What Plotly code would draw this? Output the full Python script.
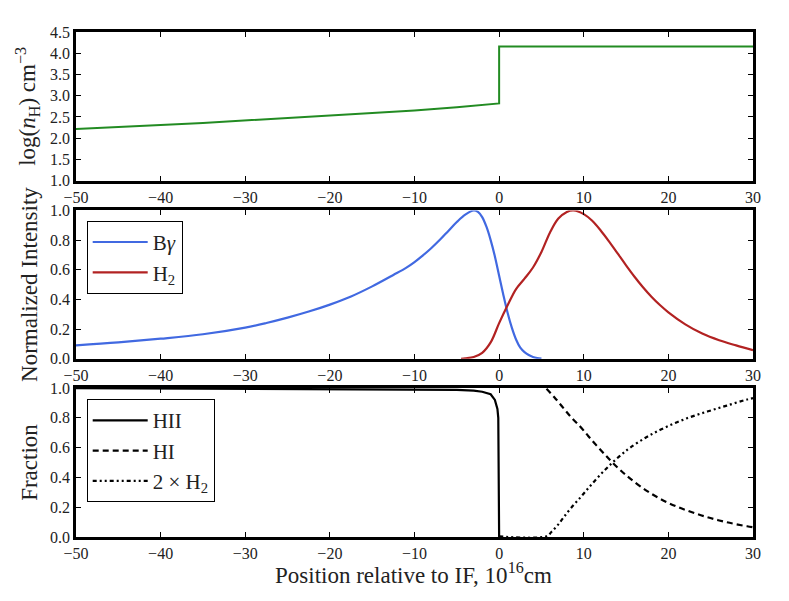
import plotly.graph_objects as go

# density panel
dens_x = [-50, -45, -40, -35, -30, -25, -20, -15, -10, -5, -2, 0, 0, 30]
dens_y = [2.22, 2.26, 2.31, 2.36, 2.42, 2.47, 2.53, 2.59, 2.65, 2.73, 2.78, 2.82, 4.16, 4.16]

# normalized intensities
brg_x = [-50, -45, -40, -35, -30, -27.5, -25, -22.5, -20, -17.5, -15, -12.5, -11, -10, -9, -8, -7, -6,
         -5, -4, -3, -2.5, -2, -1.5, -1, -0.5, 0, 0.5, 1, 1.5, 2, 2.5, 3, 3.5, 4, 4.5, 5]
brg_y = [0.09, 0.11, 0.135, 0.165, 0.21, 0.241, 0.277, 0.318, 0.365, 0.42, 0.488, 0.565, 0.613, 0.652,
         0.697, 0.747, 0.802, 0.862, 0.922, 0.972, 1.0, 0.99, 0.955, 0.89, 0.80, 0.69, 0.56, 0.43, 0.31,
         0.21, 0.13, 0.075, 0.045, 0.025, 0.012, 0.005, 0.001]

h2_x = [-4.5, -4, -3, -2, -1, 0, 1, 2, 3, 4, 5, 6, 7, 8, 8.8, 10, 11, 12, 13, 14, 15, 16, 17, 18, 19,
        20, 22, 24, 26, 28, 30]
h2_y = [0.0, 0.003, 0.012, 0.04, 0.11, 0.24, 0.36, 0.47, 0.54, 0.615, 0.72, 0.85, 0.945, 0.99, 1.0,
        0.975, 0.93, 0.865, 0.79, 0.71, 0.63, 0.553, 0.482, 0.418, 0.362, 0.313, 0.232, 0.17, 0.125,
        0.09, 0.058]

# fractions
hii_x = [-50, -10, -5, -3, -2, -1, -0.5, -0.2, -0.1, 0]
hii_y = [1.0, 0.993, 0.988, 0.982, 0.975, 0.958, 0.92, 0.86, 0.80, 0.0]

hi_x = [5.6, 6.5, 7.6, 8.5, 9.6, 10.5, 11.5, 12.5, 13.3, 14.5, 15.5, 17.5, 19.8, 22.2, 24.6, 26.9,
        29.3, 30]
hi_y = [0.995, 0.94, 0.865, 0.805, 0.74, 0.68, 0.615, 0.553, 0.505, 0.44, 0.392, 0.308, 0.234,
        0.178, 0.133, 0.099, 0.072, 0.066]

mol_x = [0, 5.6, 6.2, 7, 7.6, 8.5, 9.6, 10.5, 11.5, 12.5, 13.4, 14.5, 15.5, 17.5, 19.8, 22.2, 24.6,
         26.9, 29.3, 30]
mol_y = [0.004, 0.005, 0.035, 0.085, 0.13, 0.195, 0.265, 0.325, 0.39, 0.45, 0.50, 0.555, 0.60, 0.673,
         0.74, 0.797, 0.842, 0.882, 0.923, 0.932]

FONT = "Liberation Serif"
TXT = '#222'

fig = go.Figure()

fig.add_trace(go.Scatter(x=dens_x, y=dens_y, mode='lines', line=dict(color='#228B22', width=2),
                         showlegend=False, xaxis='x', yaxis='y'))

fig.add_trace(go.Scatter(x=brg_x, y=brg_y, mode='lines', name='B<i>\u03b3</i>',
                         line=dict(color='#4169E1', width=2.2, shape='spline', smoothing=1.0),
                         xaxis='x2', yaxis='y2', legend='legend'))
fig.add_trace(go.Scatter(x=h2_x, y=h2_y, mode='lines', name='H<sub>2</sub>',
                         line=dict(color='#B22222', width=2.2, shape='spline', smoothing=1.0),
                         xaxis='x2', yaxis='y2', legend='legend'))

fig.add_trace(go.Scatter(x=hii_x, y=hii_y, mode='lines', name='HII', line=dict(color='black', width=2.2),
                         xaxis='x3', yaxis='y3', legend='legend2'))
fig.add_trace(go.Scatter(x=hi_x, y=hi_y, mode='lines', name='HI',
                         line=dict(color='black', width=2.2, dash='6px,4px', shape='spline', smoothing=1.0),
                         xaxis='x3', yaxis='y3', legend='legend2'))
fig.add_trace(go.Scatter(x=mol_x, y=mol_y, mode='lines', name='2 \u00d7 H<sub>2</sub>',
                         line=dict(color='black', width=2.2, dash='4px,3px,2px,3px,2px,3px', shape='spline', smoothing=1.0),
                         xaxis='x3', yaxis='y3', legend='legend2'))

axis_common = dict(showline=True, linecolor='black', linewidth=2.5, mirror='ticks', ticks='inside',
                   ticklen=5, tickcolor='black', tickwidth=1, showgrid=False, zeroline=False,
                   tickfont=dict(family=FONT, size=16, color=TXT))

xcommon = dict(axis_common, range=[-50, 30], dtick=10, tick0=0)
title_font = dict(family=FONT, size=23, color=TXT)
legend_style = dict(xanchor='left', yanchor='top', bgcolor='white', bordercolor='black', borderwidth=1,
                    font=dict(family=FONT, size=21, color=TXT), itemwidth=55)

# page has an 8px body margin, so the margins are shifted by that much
fig.update_layout(
    width=789, height=601,
    margin=dict(l=68, r=44, t=24, b=72),
    paper_bgcolor='white', plot_bgcolor='white',
    font=dict(family=FONT, size=16, color=TXT),
    xaxis=dict(xcommon, domain=[0, 1], anchor='y'),
    yaxis=dict(axis_common, domain=[0.7055, 1.0], range=[1.0, 4.5], dtick=0.5, tickformat='.1f', anchor='x',
               title=dict(text='log(<i>n</i><sub>H</sub>) cm<sup>\u22123</sup>', font=title_font, standoff=8)),
    xaxis2=dict(xcommon, domain=[0, 1], anchor='y2'),
    yaxis2=dict(axis_common, domain=[0.353, 0.6467], range=[0, 1], dtick=0.2, tickformat='.1f', anchor='x2',
                title=dict(text='Normalized Intensity', font=title_font, standoff=6)),
    xaxis3=dict(xcommon, domain=[0, 1], anchor='y3'),
    yaxis3=dict(axis_common, domain=[0, 0.295], range=[0, 1], dtick=0.2, tickformat='.1f', anchor='x3',
                title=dict(text='Fraction', font=title_font, standoff=6)),
    legend=dict(legend_style, x=0.0158, y=0.626),
    legend2=dict(legend_style, x=0.0158, y=0.273),
)

# x label placed as an annotation so it sits as close to the ticks as the reference
fig.add_annotation(text='Position relative to IF, 10<sup>16</sup>cm', xref='paper', yref='paper',
                   x=0.499, y=-0.073, xanchor='center', yanchor='middle', showarrow=False, font=title_font)

fig.write_html("out.html")
